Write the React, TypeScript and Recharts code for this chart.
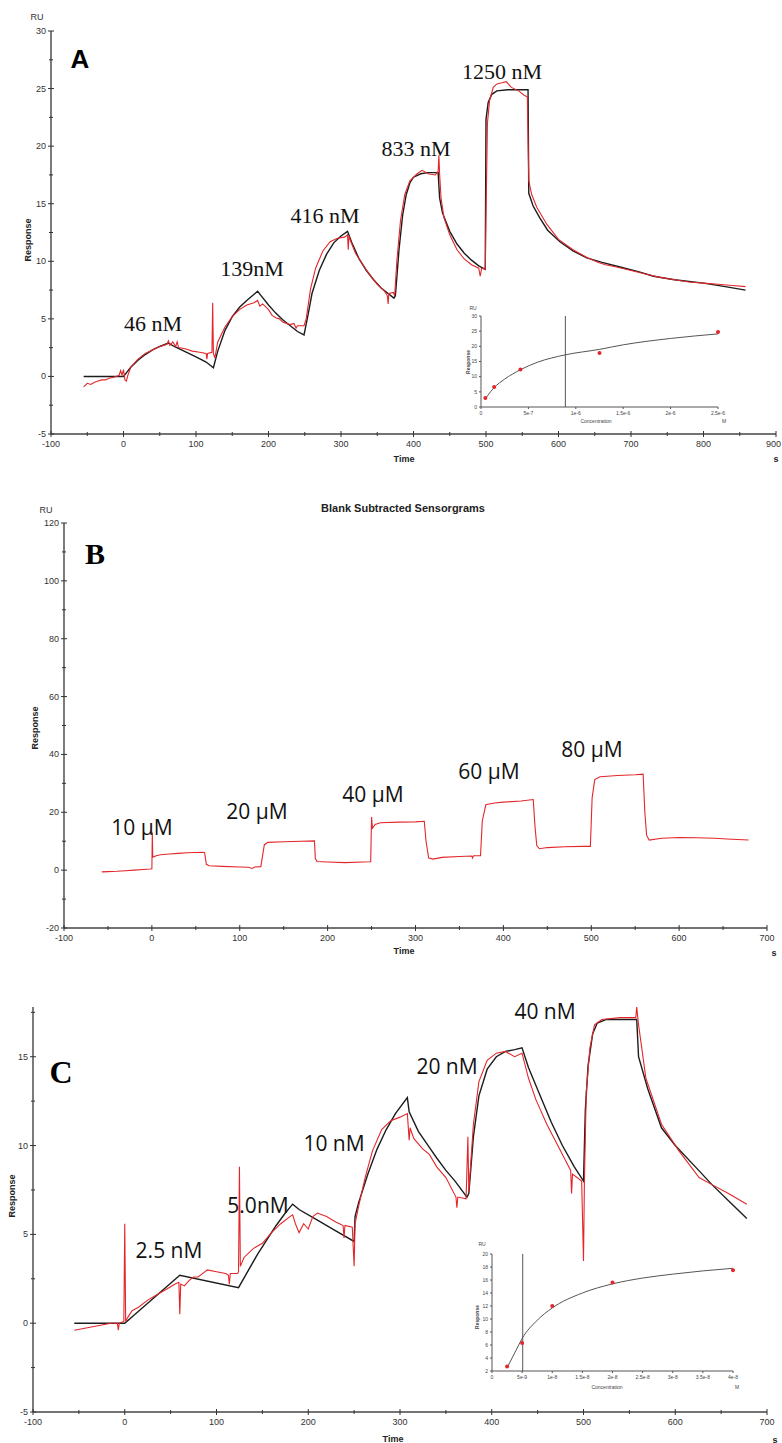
import React from 'react';
import { LineChart, Line, XAxis, YAxis, ComposedChart, Scatter, ReferenceLine } from 'recharts';

// ---------- panel A : sensorgram (time [s], response [RU]) ----------
const aRed: [number, number][] = [
  [-55, -0.9], [-50, -0.6], [-45, -0.7], [-40, -0.5], [-35, -0.4], [-30, -0.3], [-25, -0.3], [-20, -0.15],
  [-15, -0.1], [-10, 0], [-6, 0.1], [-4, 0.5], [-2, 0.1], [0, 0.6], [2, -0.3], [4, -0.4], [6, 0.1], [10, 0.8],
  [20, 1.5], [30, 2.0], [40, 2.3], [50, 2.6], [60, 2.8], [62, 3.1], [64, 2.7], [68, 3.0], [72, 2.6], [74, 3.0],
  [76, 2.5], [85, 2.4], [95, 2.2], [105, 2.1], [114, 2.0], [115, 1.5], [116, 2.0], [122, 2.1], [123, 6.4],
  [124, 2.0], [126, 1.6], [130, 3.0], [140, 4.3], [150, 5.2], [160, 5.8], [170, 6.2], [180, 6.4], [185, 6.6],
  [188, 6.1], [192, 6.3], [200, 5.8], [205, 5.3], [210, 5.1], [215, 5.0], [220, 4.7], [230, 4.5], [235, 4.6],
  [238, 4.2], [240, 4.4], [249, 4.4], [252, 5.0], [258, 7.6], [265, 9.4], [275, 10.9], [285, 11.7], [295, 12.0],
  [305, 12.1], [309, 12.3], [310, 11.0], [311, 12.2], [313, 11.8], [320, 10.7], [330, 9.7], [340, 8.8],
  [350, 8.0], [360, 7.4], [364, 7.0], [365, 6.3], [366, 7.2], [372, 7.3], [374, 7.0], [377, 10], [382, 13.5],
  [388, 15.8], [395, 17.0], [405, 17.6], [412, 17.9], [420, 17.6], [430, 17.5], [434, 17.8], [435, 19.2],
  [436, 17.6], [438, 15.5], [442, 13.8], [450, 12.3], [460, 11.0], [470, 10.2], [480, 9.7], [490, 9.4],
  [492, 8.7], [494, 9.4], [499, 9.3], [500, 14], [502, 22], [505, 24], [510, 25.1], [515, 25.4], [522, 25.5],
  [528, 25.6], [535, 25.1], [545, 24.8], [553, 24.4], [557, 24.3], [559, 17.0], [563, 15.8], [570, 14.7],
  [584, 13.2], [600, 11.9], [620, 11.0], [640, 10.3], [655, 9.9], [665, 9.7], [680, 9.5], [700, 9.2],
  [720, 8.9], [740, 8.6], [760, 8.4], [780, 8.2], [800, 8.1], [820, 8.0], [840, 7.9], [858, 7.8],
];
const aFit: [number, number][] = [
  [-55, 0], [0, 0], [5, 0.4], [10, 0.8], [20, 1.4], [30, 1.9], [40, 2.3], [50, 2.6], [62, 2.9], [70, 2.6],
  [80, 2.3], [90, 2.0], [100, 1.7], [114, 1.25], [124, 0.75], [130, 2.2], [140, 4.0], [150, 5.2], [160, 6.0],
  [170, 6.6], [185, 7.4], [190, 7.0], [200, 6.2], [210, 5.5], [220, 4.9], [230, 4.4], [240, 3.9], [249, 3.6],
  [255, 5.5], [260, 7.2], [270, 9.2], [280, 10.6], [290, 11.6], [300, 12.2], [309, 12.6], [315, 11.6],
  [325, 10.2], [335, 9.2], [345, 8.4], [355, 7.7], [365, 7.2], [373, 6.8], [375, 7.0], [380, 11], [385, 14],
  [390, 15.8], [395, 16.8], [400, 17.3], [410, 17.6], [420, 17.7], [434, 17.7], [436, 15.5], [440, 14.2],
  [450, 12.6], [460, 11.5], [470, 10.7], [480, 10.1], [490, 9.6], [499, 9.3], [500, 22.3], [503, 23.8],
  [508, 24.5], [515, 24.8], [530, 24.9], [558, 24.9], [559, 15.9], [565, 14.8], [574, 13.8], [585, 12.7],
  [602, 11.7], [620, 10.9], [639, 10.3], [660, 9.9], [685, 9.5], [710, 9.1], [731, 8.7], [760, 8.4],
  [800, 8.1], [830, 7.8], [858, 7.5],
];
const aXTicks = [-100, -50, 0, 50, 100, 150, 200, 250, 300, 350, 400, 450, 500, 550, 600, 650, 700, 750, 800, 850, 900];
const aYTicks = [-5, -2.5, 0, 2.5, 5, 7.5, 10, 12.5, 15, 17.5, 20, 22.5, 25, 27.5, 30];

// inset A : steady-state affinity
const aPts: [number, number][] = [[4.6e-8, 3.0], [1.39e-7, 6.6], [4.16e-7, 12.4], [1.25e-6, 17.8], [2.5e-6, 24.7]];
const aCurve: [number, number][] = [
  [4.6e-8, 2.7], [1e-7, 5.0], [1.39e-7, 6.4], [2.5e-7, 9.2], [4.16e-7, 12.3], [6e-7, 14.8], [8.9e-7, 17.2],
  [1.25e-6, 19.0], [1.5e-6, 20.5], [2e-6, 22.6], [2.5e-6, 24.1],
];
const aKd = 8.9e-7;
const aInXTicks = [0, 5e-7, 1e-6, 1.5e-6, 2e-6, 2.5e-6];
const aInXLabels = ['0', '5e-7', '1e-6', '1.5e-6', '2e-6', '2.5e-6'];
const aInYTicks = [0, 5, 10, 15, 20, 25, 30];

// ---------- panel B : blank subtracted sensorgrams ----------
const bRed: [number, number][] = [
  [-57, -0.6], [-50, -0.5], [-40, -0.4], [-30, -0.2], [-20, 0], [-10, 0.2], [-2, 0.4], [0, 0.5], [0.5, 13],
  [1, 4.5], [5, 5.0], [10, 5.3], [20, 5.6], [30, 5.8], [40, 6.0], [50, 6.1], [58, 6.2], [60, 6.0], [62, 2.0],
  [65, 1.5], [80, 1.3], [100, 1.1], [110, 1.0], [114, 0.6], [117, 1.1], [124, 1.2], [126, 5], [128, 8.8],
  [132, 9.6], [150, 9.8], [170, 10.0], [185, 10.1], [186, 4.0], [188, 3.0], [200, 2.8], [220, 2.6], [240, 2.8],
  [249, 2.9], [250, 18.4], [251, 14.5], [254, 15.8], [260, 16.4], [280, 16.6], [300, 16.7], [310, 16.9],
  [312, 10], [315, 4.2], [320, 3.8], [330, 4.4], [350, 4.7], [364, 4.9], [365, 4.2], [366, 5.0], [374, 5.0],
  [376, 17], [380, 22.6], [390, 23.2], [400, 23.5], [420, 23.9], [434, 24.4], [436, 15], [438, 8.5],
  [441, 7.4], [450, 7.8], [470, 8.1], [490, 8.2], [499, 8.2], [501, 25], [504, 31.3], [510, 32.3],
  [530, 32.7], [550, 33.0], [559, 33.2], [561, 20], [563, 12], [566, 10.4], [580, 11.0], [600, 11.3],
  [620, 11.2], [640, 11.0], [660, 10.7], [679, 10.4],
];
const bXTicks = [-100, -50, 0, 50, 100, 150, 200, 250, 300, 350, 400, 450, 500, 550, 600, 650, 700];
const bYTicks = [-20, -10, 0, 10, 20, 30, 40, 50, 60, 70, 80, 90, 100, 110, 120];

// ---------- panel C : sensorgram ----------
const cRed: [number, number][] = [
  [-55, -0.4], [-45, -0.3], [-35, -0.2], [-25, -0.1], [-15, 0], [-8, 0], [-7, -0.4], [-6, 0], [-1, 0.1],
  [0, 5.6], [1, 0.1], [3, 0.3], [8, 0.7], [15, 0.9], [25, 1.3], [35, 1.6], [45, 1.9], [55, 2.2], [59, 2.3],
  [60, 0.5], [61, 2.2], [65, 2.1], [70, 2.4], [75, 2.6], [80, 2.6], [90, 3.0], [100, 2.9], [110, 2.8],
  [113, 2.7], [114, 2.2], [115, 2.8], [123, 2.8], [124, 2.9], [125, 8.8], [126, 3.2], [130, 3.7], [140, 4.2],
  [150, 4.5], [160, 5.1], [170, 5.6], [180, 6.0], [183, 6.1], [186, 5.6], [190, 5.1], [195, 5.6], [200, 5.3],
  [205, 6.0], [210, 6.2], [220, 6.0], [230, 5.7], [238, 5.5], [239, 4.8], [240, 5.5], [248, 5.4], [250, 3.2],
  [251, 5.6], [255, 6.6], [262, 8.2], [270, 9.7], [280, 10.9], [290, 11.4], [300, 11.6], [308, 11.8],
  [310, 10.3], [311, 11.0], [315, 10.4], [325, 9.8], [332, 9.5], [340, 8.8], [350, 8.2], [361, 7.1],
  [362, 6.5], [363, 7.1], [372, 7.0], [374, 10.5], [375, 7.4], [380, 11.2], [386, 13.6], [395, 14.8],
  [405, 15.2], [415, 15.3], [425, 15.0], [433, 15.2], [440, 13.8], [448, 12.6], [460, 11.2], [470, 10.2],
  [480, 9.2], [486, 8.6], [487, 7.3], [488, 8.4], [498, 8.0], [500, 3.5], [501, 8.0], [503, 13], [507, 15.5],
  [512, 16.8], [520, 17.1], [540, 17.2], [557, 17.2], [558, 17.8], [560, 16.8], [568, 13.8], [585, 11.2],
  [604, 9.7], [626, 8.2], [640, 7.8], [658, 7.3], [678, 6.7],
];
const cFit: [number, number][] = [
  [-55, 0], [0, 0], [10, 0.45], [20, 0.9], [30, 1.35], [40, 1.8], [50, 2.25], [60, 2.7], [124, 2.0],
  [135, 3.0], [145, 3.9], [155, 4.7], [165, 5.5], [175, 6.2], [183, 6.7], [190, 6.4], [210, 5.8], [230, 5.2],
  [250, 4.6], [251, 6.0], [255, 6.8], [265, 8.4], [275, 9.8], [285, 10.9], [295, 11.8], [308, 12.7],
  [310, 11.9], [320, 10.8], [332, 9.9], [340, 9.3], [350, 8.6], [360, 8.0], [373, 7.1], [375, 7.3],
  [380, 10.5], [386, 12.8], [395, 14.3], [405, 15.0], [415, 15.3], [425, 15.4], [433, 15.5], [440, 14.4],
  [452, 12.9], [465, 11.3], [477, 10.0], [490, 8.8], [500, 8.0], [502, 12], [505, 14.5], [510, 16.3],
  [515, 16.9], [525, 17.1], [558, 17.1], [560, 15.0], [570, 13.2], [585, 11.0], [600, 10.0], [622, 8.8],
  [640, 7.8], [660, 6.8], [678, 5.9],
];
const cXTicks = [-100, -50, 0, 50, 100, 150, 200, 250, 300, 350, 400, 450, 500, 550, 600, 650, 700];
const cYTicks = [-5, -2.5, 0, 2.5, 5, 7.5, 10, 12.5, 15, 17.5];

// inset C
const cPts: [number, number][] = [[2.5e-9, 2.7], [5e-9, 6.3], [1e-8, 12], [2e-8, 15.6], [4e-8, 17.5]];
const cCurve: [number, number][] = [
  [2.5e-9, 2.5], [4e-9, 5.2], [5e-9, 7.0], [7.5e-9, 9.8], [1e-8, 11.7], [1.5e-8, 14.0], [2e-8, 15.4],
  [2.5e-8, 16.3], [3e-8, 16.9], [3.5e-8, 17.4], [4e-8, 17.8],
];
const cKd = 5.1e-9;
const cInXTicks = [0, 5e-9, 1e-8, 1.5e-8, 2e-8, 2.5e-8, 3e-8, 3.5e-8, 4e-8];
const cInXLabels = ['0', '5e-9', '1e-8', '1.5e-8', '2e-8', '2.5e-8', '3e-8', '3.5e-8', '4e-8'];
const cInYTicks = [2, 4, 6, 8, 10, 12, 14, 16, 18, 20];

const RED = '#e3262a';
const FIT = '#1c1c1c';
const SANS = '"Liberation Sans", Arial, sans-serif';

// red trace + fit share one table, keyed by time
const merge = (red: [number, number][], fit: [number, number][] = []) => {
  const m = new Map<number, any>();
  red.forEach(([t, v]) => m.set(t, { ...(m.get(t) || { t }), red: v }));
  fit.forEach(([t, v]) => m.set(t, { ...(m.get(t) || { t }), fit: v }));
  return Array.from(m.values()).sort((p, q) => p.t - q.t);
};
const aRows = merge(aRed, aFit);
const bRows = merge(bRed);
const cRows = merge(cRed, cFit);

const XTick = (p: any) => {
  const major = p.payload.value % p.step === 0;
  const s = major ? 3 : 2;
  // last label sits at the page edge, keep it inside
  const atEdge = p.x > 770;
  return (
    <g>
      <line x1={p.x} x2={p.x} y1={p.y - s} y2={p.y + s} stroke="#333" />
      {major && (
        <text
          x={atEdge ? 781 : p.x}
          y={p.y + 13}
          textAnchor={atEdge ? 'end' : 'middle'}
          fontSize={9}
          fill="#333"
          fontFamily={SANS}
        >
          {p.payload.value}
        </text>
      )}
    </g>
  );
};

const YTick = (p: any) => {
  const major = p.payload.value % p.step === 0;
  const s = major ? 3 : 2;
  return (
    <g>
      <line x1={p.x - s} x2={p.x + s} y1={p.y} y2={p.y} stroke="#333" />
      {major && (
        <text x={p.x - 5} y={p.y + 3} textAnchor="end" fontSize={9} fill="#333" fontFamily={SANS}>
          {p.payload.value}
        </text>
      )}
    </g>
  );
};

const Txt = ({ x, y, rot, style, children }: any) => (
  <div
    style={{
      position: 'absolute',
      left: x,
      top: y,
      transform: `translate(-50%, -50%)${rot ? ' rotate(-90deg)' : ''}`,
      whiteSpace: 'nowrap',
      lineHeight: 1,
      fontFamily: SANS,
      color: '#222',
      ...style,
    }}
  >
    {children}
  </div>
);

const axisStroke = { stroke: '#444', strokeWidth: 1.4 };
const small = { fontSize: 9, color: '#333' };
const boldSmall = { fontSize: 9, fontWeight: 700, color: '#222' };
const serifNote = { fontFamily: '"Liberation Serif", "Times New Roman", serif', fontSize: 22, color: '#111' };
const sansNote = { fontFamily: '"Open Sans", sans-serif', fontSize: 21, color: '#111' };

const Sensorgram = ({ rows, width, height, margin, yWidth, xDomain, xTicks, yDomain, yTicks, yStep, withFit }: any) => (
  <LineChart width={width} height={height} data={rows} margin={margin}>
    <XAxis
      dataKey="t"
      type="number"
      domain={xDomain}
      ticks={xTicks}
      interval={0}
      allowDataOverflow
      height={20}
      tickSize={0}
      tickMargin={0}
      tickLine={false}
      axisLine={axisStroke}
      tick={(p: any) => <XTick {...p} step={100} />}
    />
    <YAxis
      type="number"
      domain={yDomain}
      ticks={yTicks}
      interval={0}
      allowDataOverflow
      width={yWidth}
      tickSize={0}
      tickMargin={0}
      tickLine={false}
      axisLine={axisStroke}
      tick={(p: any) => <YTick {...p} step={yStep} />}
    />
    {withFit && (
      <Line dataKey="fit" type="linear" stroke={FIT} strokeWidth={1.4} dot={false} connectNulls isAnimationActive={false} />
    )}
    <Line dataKey="red" type="linear" stroke={RED} strokeWidth={1.1} dot={false} connectNulls isAnimationActive={false} />
  </LineChart>
);

const Inset = ({ curve, pts, kd, width, height, margin, xDomain, xTicks, xLabels, yDomain, yTicks }: any) => {
  const curveRows = curve.map(([c, v]: number[]) => ({ c, v }));
  const ptRows = pts.map(([c, r]: number[]) => ({ c, r }));
  return (
    <ComposedChart width={width} height={height} data={curveRows} margin={margin}>
      <XAxis
        dataKey="c"
        type="number"
        domain={xDomain}
        ticks={xTicks}
        interval={0}
        height={14}
        tickSize={2}
        tickMargin={2}
        tick={{ fontSize: 5, fill: '#444', fontFamily: SANS }}
        tickFormatter={(_v: number, i: number) => xLabels[i]}
        stroke="#555"
      />
      <YAxis
        type="number"
        domain={yDomain}
        ticks={yTicks}
        interval={0}
        width={20}
        tickSize={2}
        tickMargin={2}
        tick={{ fontSize: 5, fill: '#444', fontFamily: SANS }}
        stroke="#555"
      />
      <ReferenceLine x={kd} stroke="#555" strokeWidth={1} />
      <Line dataKey="v" type="monotone" stroke="#555" strokeWidth={1} dot={false} isAnimationActive={false} />
      <Scatter data={ptRows} dataKey="r" fill={RED} shape={(p: any) => <circle cx={p.cx} cy={p.cy} r={2} fill={RED} />} isAnimationActive={false} />
    </ComposedChart>
  );
};

export default function App() {
  return (
    <div style={{ position: 'absolute', left: 0, top: 0, width: 782, height: 1443, background: '#fff', overflow: 'hidden' }}>
      {/* panel A */}
      <div style={{ position: 'absolute', left: 0, top: 0 }}>
        <Sensorgram
          rows={aRows}
          width={782}
          height={470}
          margin={{ top: 31, right: 6, bottom: 16, left: 0 }}
          yWidth={51}
          xDomain={[-100, 900]}
          xTicks={aXTicks}
          yDomain={[-5, 30]}
          yTicks={aYTicks}
          yStep={5}
          withFit
        />
      </div>
      <div style={{ position: 'absolute', left: 440, top: 300 }}>
        <Inset
          curve={aCurve}
          pts={aPts}
          kd={aKd}
          width={300}
          height={130}
          margin={{ top: 16, right: 22, bottom: 9, left: 21 }}
          xDomain={[0, 2.5e-6]}
          xTicks={aInXTicks}
          xLabels={aInXLabels}
          yDomain={[0, 30]}
          yTicks={aInYTicks}
        />
      </div>

      {/* panel B */}
      <div style={{ position: 'absolute', left: 0, top: 480 }}>
        <Sensorgram
          rows={bRows}
          width={782}
          height={480}
          margin={{ top: 43, right: 15, bottom: 12, left: 0 }}
          yWidth={64}
          xDomain={[-100, 700]}
          xTicks={bXTicks}
          yDomain={[-20, 120]}
          yTicks={bYTicks}
          yStep={20}
        />
      </div>

      {/* panel C */}
      <div style={{ position: 'absolute', left: 0, top: 960 }}>
        <Sensorgram
          rows={cRows}
          width={782}
          height={483}
          margin={{ top: 47, right: 15, bottom: 11, left: 0 }}
          yWidth={33}
          xDomain={[-100, 700]}
          xTicks={cXTicks}
          yDomain={[-5, 17.8]}
          yTicks={cYTicks}
          yStep={5}
          withFit
        />
      </div>
      <div style={{ position: 'absolute', left: 450, top: 1236 }}>
        <Inset
          curve={cCurve}
          pts={cPts}
          kd={cKd}
          width={310}
          height={160}
          margin={{ top: 18, right: 27, bottom: 11, left: 22 }}
          xDomain={[0, 4e-8]}
          xTicks={cInXTicks}
          xLabels={cInXLabels}
          yDomain={[2, 20]}
          yTicks={cInYTicks}
        />
      </div>

      {/* panel A texts */}
      <Txt x={37} y={17} style={small}>RU</Txt>
      <Txt x={28} y={240} rot style={boldSmall}>Response</Txt>
      <Txt x={404} y={459} style={boldSmall}>Time</Txt>
      <Txt x={776} y={459} style={boldSmall}>s</Txt>
      <Txt x={80} y={59} style={{ fontFamily: SANS, fontSize: 26, fontWeight: 700, color: '#000' }}>A</Txt>
      <Txt x={153} y={324} style={serifNote}>46 nM</Txt>
      <Txt x={252} y={269} style={serifNote}>139nM</Txt>
      <Txt x={325} y={216} style={serifNote}>416 nM</Txt>
      <Txt x={416} y={149} style={serifNote}>833 nM</Txt>
      <Txt x={502} y={72} style={serifNote}>1250 nM</Txt>
      <Txt x={473} y={308} style={{ fontSize: 5, color: '#444' }}>RU</Txt>
      <Txt x={468} y={362} rot style={{ fontSize: 5, fontWeight: 700, color: '#444' }}>Response</Txt>
      <Txt x={596} y={421} style={{ fontSize: 5, color: '#444' }}>Concentration</Txt>
      <Txt x={724} y={421} style={{ fontSize: 5, color: '#444' }}>M</Txt>

      {/* panel B texts */}
      <Txt x={403} y={508} style={{ fontSize: 11, fontWeight: 700, color: '#222' }}>Blank Subtracted Sensorgrams</Txt>
      <Txt x={46} y={510} style={small}>RU</Txt>
      <Txt x={35} y={728} rot style={boldSmall}>Response</Txt>
      <Txt x={404} y={951} style={boldSmall}>Time</Txt>
      <Txt x={774} y={953} style={boldSmall}>s</Txt>
      <Txt x={95} y={554} style={{ fontFamily: '"Liberation Serif", serif', fontSize: 30, fontWeight: 700, color: '#000' }}>B</Txt>
      <Txt x={142} y={827} style={sansNote}>10 µM</Txt>
      <Txt x={257} y={811} style={sansNote}>20 µM</Txt>
      <Txt x={373} y={794} style={sansNote}>40 µM</Txt>
      <Txt x={489} y={771} style={sansNote}>60 µM</Txt>
      <Txt x={592} y={749} style={sansNote}>80 µM</Txt>

      {/* panel C texts */}
      <Txt x={12} y={1196} rot style={boldSmall}>Response</Txt>
      <Txt x={393} y={1439} style={boldSmall}>Time</Txt>
      <Txt x={775} y={1440} style={boldSmall}>s</Txt>
      <Txt x={61} y={1072} style={{ fontFamily: '"Liberation Serif", serif', fontSize: 32, fontWeight: 700, color: '#000' }}>C</Txt>
      <Txt x={169} y={1250} style={sansNote}>2.5 nM</Txt>
      <Txt x={258} y={1205} style={sansNote}>5.0nM</Txt>
      <Txt x={334} y={1143} style={sansNote}>10 nM</Txt>
      <Txt x={447} y={1066} style={sansNote}>20 nM</Txt>
      <Txt x={545} y={1011} style={sansNote}>40 nM</Txt>
      <Txt x={482} y={1244} style={{ fontSize: 5, color: '#444' }}>RU</Txt>
      <Txt x={477} y={1317} rot style={{ fontSize: 5, fontWeight: 700, color: '#444' }}>Response</Txt>
      <Txt x={607} y={1387} style={{ fontSize: 5, color: '#444' }}>Concentration</Txt>
      <Txt x={737} y={1387} style={{ fontSize: 5, color: '#444' }}>M</Txt>
    </div>
  );
}
